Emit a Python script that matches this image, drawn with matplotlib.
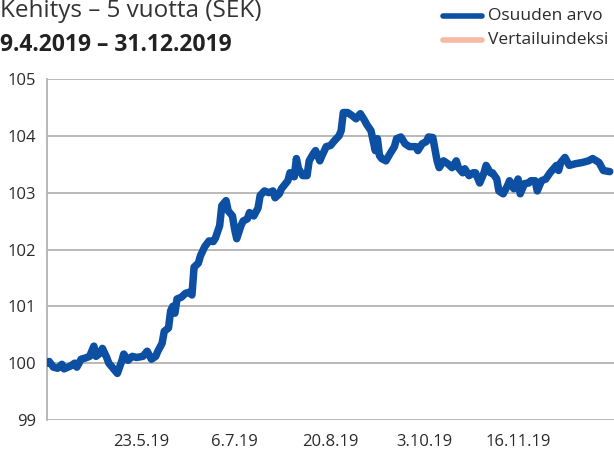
import matplotlib
matplotlib.use("Agg")
import matplotlib.pyplot as plt
from matplotlib.lines import Line2D
import pandas as pd

plt.rcParams['font.family'] = ['Open Sans', 'DejaVu Sans']

title = "Kehitys – 5 vuotta (SEK)"
subtitle = "9.4.2019 – 31.12.2019"
series_names = ["Osuuden arvo", "Vertailuindeksi"]
start_date = "2019-04-09"
end_date = "2019-12-31"

day_offsets = [0, 1, 3, 5, 7, 8, 11, 13, 14, 16, 18, 20, 22, 23, 25, 26, 28, 29, 31, 33,
               35, 36, 38, 40, 42, 45, 47, 49, 51, 52, 54, 55, 57, 58, 59, 60, 61, 63, 65, 67,
               68, 69, 71, 72, 74, 76, 78, 79, 81, 82, 84, 85, 87, 88, 89, 91, 92, 94, 95, 97,
               99, 100, 102, 104, 106, 107, 109, 110, 113, 114, 116, 117, 118, 120, 122, 123, 125, 126, 128, 129,
               131, 133, 135, 137, 138, 139, 141, 143, 145, 147, 149, 150, 152, 154, 155, 156, 157, 159, 161, 163,
               164, 166, 168, 170, 172, 173, 174, 176, 178, 179, 181, 183, 184, 186, 188, 190, 192, 193, 195, 196,
               198, 200, 201, 203, 205, 206, 208, 209, 211, 212, 214, 216, 217, 219, 221, 222, 224, 226, 227, 229,
               230, 232, 234, 236, 239, 240, 241, 243, 245, 248, 251, 254, 256, 259, 261, 264]
fund_values = [100.00, 100.03, 99.93, 99.91, 99.98, 99.90, 99.95, 100.00, 99.93, 100.07, 100.09, 100.12, 100.30, 100.12, 100.18, 100.26, 100.10, 100.00, 99.91, 99.82,
               100.03, 100.16, 100.05, 100.12, 100.10, 100.12, 100.21, 100.07, 100.12, 100.21, 100.35, 100.56, 100.62, 100.92, 101.00, 100.88, 101.13, 101.16, 101.23, 101.25,
               101.20, 101.69, 101.76, 101.89, 102.05, 102.15, 102.14, 102.20, 102.42, 102.77, 102.86, 102.68, 102.59, 102.36, 102.19, 102.42, 102.50, 102.54, 102.65, 102.59,
               102.73, 102.95, 103.03, 103.00, 103.03, 102.91, 102.98, 103.07, 103.21, 103.35, 103.28, 103.60, 103.42, 103.30, 103.30, 103.56, 103.69, 103.74, 103.56, 103.65,
               103.81, 103.83, 103.92, 104.00, 104.09, 104.41, 104.41, 104.36, 104.30, 104.39, 104.27, 104.20, 104.09, 103.74, 103.95, 103.65, 103.60, 103.56, 103.69, 103.81,
               103.95, 103.98, 103.86, 103.81, 103.81, 103.81, 103.74, 103.86, 103.90, 103.98, 103.97, 103.56, 103.44, 103.56, 103.51, 103.44, 103.56, 103.44, 103.35, 103.42,
               103.30, 103.35, 103.35, 103.17, 103.35, 103.48, 103.35, 103.35, 103.24, 103.03, 102.98, 103.12, 103.21, 103.07, 103.24, 102.98, 103.16, 103.17, 103.21, 103.21,
               103.03, 103.21, 103.24, 103.35, 103.48, 103.39, 103.53, 103.62, 103.48, 103.51, 103.53, 103.56, 103.60, 103.53, 103.39, 103.37]

y_ticks = [99, 100, 101, 102, 103, 104, 105]
x_tick_dates = ["2019-05-23", "2019-07-06", "2019-08-20", "2019-10-03", "2019-11-16"]
x_tick_labels = ["23.5.19", "6.7.19", "20.8.19", "3.10.19", "16.11.19"]

fund_color = "#0d4fa3"
bench_color = "#f7b9a0"
grid_color = "#b3b3b3"
text_color = "#2b2b2b"

dates = pd.Timestamp(start_date) + pd.to_timedelta(day_offsets, unit="D")

fig = plt.figure(figsize=(6.14, 4.57), dpi=100)
ax = fig.add_axes([47 / 614, 1 - 420 / 457, 1 - 47 / 614, (420 - 79) / 457])

ax.plot(dates, fund_values, color=fund_color, linewidth=5.4,
        solid_joinstyle="round", solid_capstyle="round", zorder=3)

ax.set_ylim(99, 105)
ax.set_xlim(pd.Timestamp(start_date), pd.Timestamp(end_date))
ax.set_yticks(y_ticks)
ax.set_yticklabels([str(v) for v in y_ticks])
ax.set_xticks(pd.to_datetime(x_tick_dates))
ax.set_xticklabels(x_tick_labels)
ax.grid(axis="y", color=grid_color, linewidth=1.3)
ax.set_axisbelow(True)
for s in ["top", "right", "bottom"]:
    ax.spines[s].set_visible(False)
ax.spines["left"].set_color(grid_color)
ax.spines["left"].set_linewidth(1.3)
ax.tick_params(axis="both", length=0, labelsize=12, labelcolor=text_color)
ax.tick_params(axis="y", pad=8)
ax.tick_params(axis="x", pad=10)

fig.text(0.0, 1 - 17 / 457, title, fontsize=17.5, color="#333333", ha="left", va="baseline")
fig.text(0.0, 1 - 51 / 457, subtitle, fontsize=16.5, fontweight="bold", color="#222222",
         ha="left", va="baseline")

# legend
for i, (name, col) in enumerate(zip(series_names, [fund_color, bench_color])):
    yy = 1 - (16 + 24 * i) / 457
    fig.add_artist(Line2D([443 / 614, 482 / 614], [yy, yy], color=col, linewidth=4,
                          solid_capstyle="round", transform=fig.transFigure))
    fig.text(488 / 614, yy, name, fontsize=12.5, color=text_color, ha="left", va="center")

fig.savefig("out.png", dpi=100)
